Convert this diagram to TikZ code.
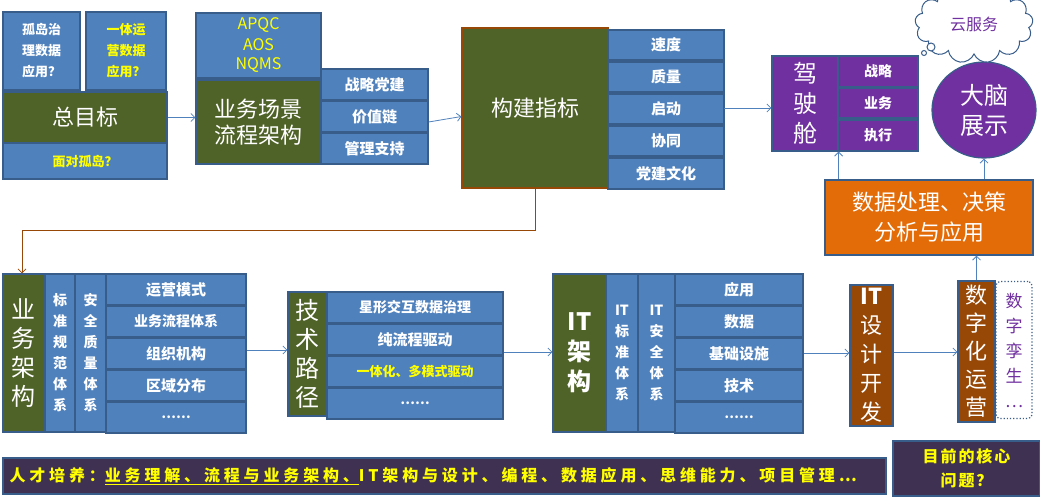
\documentclass[tikz,border=0pt]{standalone}
\usepackage{fontspec}
\setmainfont{Noto Sans CJK SC}
\usetikzlibrary{arrows.meta,shapes.symbols,shapes.geometric}

\definecolor{boxblue}{HTML}{4F81BD}
\definecolor{boxline}{HTML}{385D8A}
\definecolor{boxgreen}{HTML}{4F6228}
\definecolor{boxpurple}{HTML}{7030A0}
\definecolor{boxorange}{HTML}{E36C09}
\definecolor{boxbrown}{HTML}{974706}
\definecolor{boxdark}{HTML}{3F3151}
\definecolor{txtyellow}{HTML}{FFFF00}

% box from corner (x1,y1) to corner (x2,y2), pixel units
\newcommand\blk[7]{\node[#1, minimum width={(#4-#2)*1pt}, minimum height={(#5-#3)*1pt}] (#6) at ({(#2+#4)/2},{(#3+#5)/2}) {#7};}

\tikzset{
  cell/.style={draw=boxline, line width=1.2pt, fill=boxblue, text=white, inner sep=0pt, align=center, font=\fontsize{13}{21}\selectfont\bfseries},
  head/.style={draw=boxline, line width=1.2pt, fill=boxgreen, text=white, inner sep=0pt, align=center, font=\fontsize{22}{26}\selectfont},
  vhead/.style={head, font=\fontsize{24}{29}\selectfont},
  vcell/.style={cell, font=\fontsize{14}{21}\selectfont\bfseries},
  pcell/.style={cell, fill=boxpurple},
  flow/.style={draw=boxblue, line width=0.8pt, -{Straight Barb[length=4pt,width=8pt]}},
}

\begin{document}
\begin{tikzpicture}[x=1pt, y=-1pt]
    \useasboundingbox (0,0) rectangle (1040,496);

    % goal block
    \blk{cell}{3}{12}{80}{90}{islA}{孤岛治\\理数据\\应用？}
    \blk{cell, text=txtyellow}{86}{12}{166}{90}{islB}{一体运\\营数据\\应用？}
    \blk{head}{3}{92}{167}{143}{goal}{总目标}
    \blk{cell, text=txtyellow}{3}{143}{167}{179}{island}{面对孤岛？}

    % scene block
    \blk{cell, text=txtyellow, font=\fontsize{16}{20}\selectfont}{196}{13}{321}{78}{apqc}{APQC\\AOS\\NQMS}
    \blk{head}{196}{80}{321}{164}{scene}{业务场景\\流程架构}
    \blk{cell, font=\fontsize{15}{18}\selectfont\bfseries}{321}{69}{428}{100}{sA}{战略党建}
    \blk{cell, font=\fontsize{15}{18}\selectfont\bfseries}{321}{101}{428}{132}{sB}{价值链}
    \blk{cell, font=\fontsize{15}{18}\selectfont\bfseries}{321}{133}{428}{164}{sC}{管理支持}

    % index block
    \blk{head, draw=boxbrown}{462}{28}{608}{188}{index}{构建指标}
    \blk{cell, font=\fontsize{15}{18}\selectfont\bfseries}{608}{30}{724}{60}{iA}{速度}
    \blk{cell, font=\fontsize{15}{18}\selectfont\bfseries}{608}{62}{724}{92}{iB}{质量}
    \blk{cell, font=\fontsize{15}{18}\selectfont\bfseries}{608}{94}{724}{124}{iC}{启动}
    \blk{cell, font=\fontsize{15}{18}\selectfont\bfseries}{608}{126}{724}{156}{iD}{协同}
    \blk{cell, font=\fontsize{15}{18}\selectfont\bfseries}{608}{158}{724}{189}{iE}{党建文化}

    % cockpit
    \blk{pcell, font=\fontsize{24}{30}\selectfont}{772}{56}{838}{151}{cockpit}{驾\\驶\\舱}
    \blk{pcell, font=\fontsize{14}{18}\selectfont\bfseries}{838}{56}{918}{87}{cA}{战略}
    \blk{pcell, font=\fontsize{14}{18}\selectfont\bfseries}{838}{88}{918}{118}{cB}{业务}
    \blk{pcell, font=\fontsize{14}{18}\selectfont\bfseries}{838}{120}{918}{151}{cC}{执行}
    \node[ellipse, draw=boxline, line width=1.2pt, fill=boxpurple, text=white, align=center, minimum width=104pt, minimum height=96pt, inner sep=0pt, font=\fontsize{24}{30}\selectfont] (brain) at (984,110) {大脑\\展示};
    \node[cloud, cloud puffs=13, draw=boxline, line width=1pt, fill=white, text=boxpurple, minimum width=118pt, minimum height=40pt, inner sep=0pt, font=\fontsize{16}{20}\selectfont] (cloud) at (974,24) {云服务};
    \draw[boxline, line width=1pt, fill=white] (931,47) circle (4);
    \draw[boxline, line width=1pt, fill=white] (924,53) circle (2.5);
    \blk{cell, fill=boxorange, font=\fontsize{22}{30}\selectfont}{825}{180}{1033}{255}{proc}{数据处理、决策\\分析与应用}

    % business architecture
    \blk{vhead}{3}{274}{45}{432}{biz}{业\\务\\架\\构}
    \blk{vcell}{45}{274}{75}{432}{bStd}{标\\准\\规\\范\\体\\系}
    \blk{vcell}{75}{274}{106}{432}{bSafe}{安\\全\\质\\量\\体\\系}
    \blk{cell, font=\fontsize{15}{18}\selectfont\bfseries}{106}{274}{246}{305}{bA}{运营模式}
    \blk{cell, font=\fontsize{14}{18}\selectfont\bfseries}{106}{306}{246}{337}{bB}{业务流程体系}
    \blk{cell, font=\fontsize{15}{18}\selectfont\bfseries}{106}{338}{246}{369}{bC}{组织机构}
    \blk{cell, font=\fontsize{15}{18}\selectfont\bfseries}{106}{370}{246}{401}{bD}{区域分布}
    \blk{cell}{106}{402}{246}{433}{bE}{……}

    % tech path
    \blk{vhead}{288}{292}{327}{416}{tech}{技\\术\\路\\径}
    \blk{cell, font=\fontsize{14}{18}\selectfont\bfseries}{327}{292}{503}{323}{tA}{星形交互数据治理}
    \blk{cell, font=\fontsize{15}{18}\selectfont\bfseries}{327}{324}{503}{355}{tB}{纯流程驱动}
    \blk{cell, text=txtyellow}{327}{356}{503}{387}{tC}{一体化、多模式驱动}
    \blk{cell}{327}{388}{503}{419}{tD}{……}

    % IT architecture
    \blk{vhead, font=\fontsize{24}{30}\selectfont\bfseries}{553}{274}{606}{432}{itArch}{IT\\架\\构}
    \blk{vcell}{606}{274}{638}{432}{itStd}{IT\\标\\准\\体\\系}
    \blk{vcell}{638}{274}{675}{432}{itSafe}{IT\\安\\全\\体\\系}
    \blk{cell, font=\fontsize{15}{18}\selectfont\bfseries}{675}{274}{803}{305}{itA}{应用}
    \blk{cell, font=\fontsize{15}{18}\selectfont\bfseries}{675}{306}{803}{337}{itB}{数据}
    \blk{cell, font=\fontsize{15}{18}\selectfont\bfseries}{675}{338}{803}{369}{itC}{基础设施}
    \blk{cell, font=\fontsize{15}{18}\selectfont\bfseries}{675}{370}{803}{401}{itD}{技术}
    \blk{cell}{675}{402}{803}{433}{itE}{……}

    % develop and operate
    \blk{vhead, fill=boxbrown, font=\fontsize{22}{29}\selectfont}{850}{285}{893}{426}{dev}{\textbf{IT}\\设\\计\\开\\发}
    \blk{vhead, fill=boxbrown, font=\fontsize{22}{28}\selectfont}{958}{281}{995}{422}{ops}{数\\字\\化\\运\\营}
    \node[draw=boxline, line width=1.2pt, dotted, rounded corners=4pt, fill=white, text=boxpurple, align=center, inner sep=0pt, minimum width=36pt, minimum height=137pt, font=\fontsize{17}{25}\selectfont] (twin) at (1014,350) {数\\字\\孪\\生\\…};

    % bottom bars
    \blk{cell, fill=boxdark, text=txtyellow, text width=870pt, align=left, font=\fontsize{16}{18}\selectfont\bfseries\addfontfeatures{LetterSpace=24}}{3}{458}{886}{494}{talent}{人才培养：\underline{业务理解、流程与业务架构、}IT架构与设计、编程、数据应用、思维能力、项目管理…}
    \blk{cell, fill=boxdark, text=txtyellow, font=\fontsize{16}{24}\selectfont\bfseries\addfontfeatures{LetterSpace=12}}{893}{441}{1040}{496}{core}{目前的核心\\问题？}

    % connectors
    \draw[flow] (goal.east) -- (scene.west |- goal.east);
    \draw[flow] (scene.east -| sB.east) -- (index.west |- sB.east);
    \draw[flow] (724,108) -- (cockpit.west |- 0,108);
    \draw[flow] (proc.north -| cockpit.east) -- (cockpit.south east);
    \draw[flow] (proc.north -| brain.south) -- (brain.south);
    \draw[flow] (ops.north) -- (proc.south -| ops.north);
    \draw[draw=boxbrown, line width=0.8pt, -{Straight Barb[length=4pt,width=8pt]}] (index.south -| 535,0) |- (22,230) -- (biz.north -| 22,0);
    \draw[flow] (bC.east |- 0,350) -- (tech.west |- 0,350);
    \draw[flow] (tB.east |- 0,352) -- (itArch.west |- 0,352);
    \draw[flow] (itC.east |- 0,353) -- (dev.west |- 0,353);
    \draw[flow] (dev.east |- 0,352) -- (ops.west |- 0,352);

\end{tikzpicture}
\end{document}
